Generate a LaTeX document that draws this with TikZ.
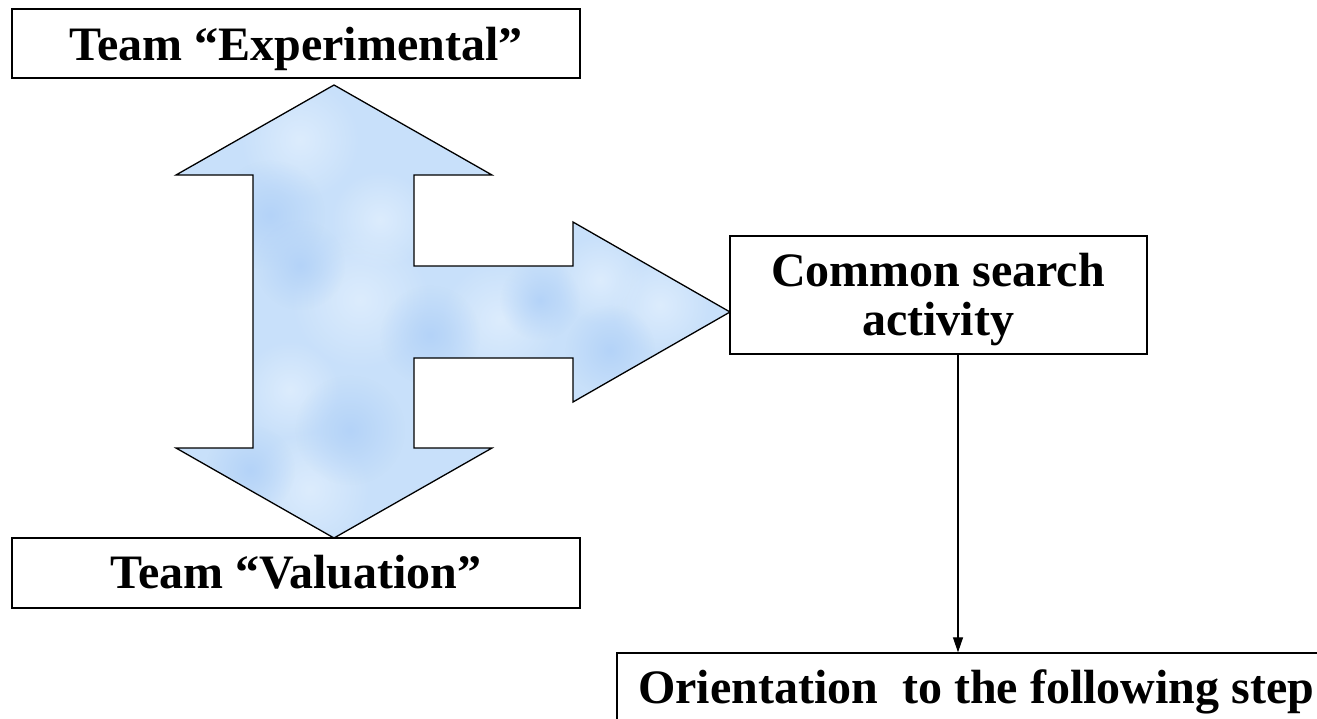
\documentclass[tikz,border=0pt]{standalone}
\usepackage{fontspec}
\setmainfont{Liberation Serif}
\usetikzlibrary{arrows.meta,fadings}
\definecolor{sky}{RGB}{200,224,250}
\definecolor{skylight}{RGB}{220,236,253}
\definecolor{skydeep}{RGB}{180,211,248}
\tikzfading[name=softdisc, inner color=transparent!0, outer color=transparent!100]
\begin{document}
\begin{tikzpicture}[x=1pt,y=-1pt,
  box/.style={draw=black, line width=1.3pt, fill=white, inner sep=0pt},
  lbl/.style={font=\bfseries\fontsize{48}{53}\selectfont, inner sep=0pt, anchor=base},
  link/.style={draw=black, line width=1.1pt, -{Triangle[length=15pt,width=10pt]}},
  outline/.style={draw=black, line width=1.3pt, line join=miter},
  cloud/.style={path fading=softdisc}]
\useasboundingbox (0,0) rectangle (1317,718);

% corners of the three-way block arrow
\coordinate (a1)  at (334,85);
\coordinate (a2)  at (492,175);
\coordinate (a3)  at (414,175);
\coordinate (a4)  at (414,266);
\coordinate (a5)  at (573,266);
\coordinate (a6)  at (573,222);
\coordinate (a7)  at (730,312);
\coordinate (a8)  at (573,402);
\coordinate (a9)  at (573,358);
\coordinate (a10) at (414,358);
\coordinate (a11) at (414,448);
\coordinate (a12) at (492,448);
\coordinate (a13) at (334,538);
\coordinate (a14) at (176,448);
\coordinate (a15) at (253,448);
\coordinate (a16) at (253,175);
\coordinate (a17) at (176,175);

% cloudy blue fill of the block arrow
\begin{scope}
  \clip (a1) -- (a2) -- (a3) -- (a4) -- (a5) -- (a6) -- (a7) -- (a8) -- (a9)
        -- (a10) -- (a11) -- (a12) -- (a13) -- (a14) -- (a15) -- (a16) -- (a17) -- cycle;
  \fill[sky] (160,80) rectangle (740,545);
  \foreach \cx/\cy/\r in {300/140/60, 360/300/70, 500/320/60, 660/305/50,
                          310/490/60, 290/390/50, 380/220/50, 600/280/45}
    \fill[skylight, cloud] (\cx,\cy) circle (\r pt);
  \foreach \cx/\cy/\r in {270/215/55, 430/335/50, 610/350/45, 350/430/55,
                          300/265/45, 540/300/40, 250/470/45}
    \fill[skydeep, cloud] (\cx,\cy) circle (\r pt);
\end{scope}
\draw[outline] (a1) -- (a2) -- (a3) -- (a4) -- (a5) -- (a6) -- (a7) -- (a8) -- (a9)
        -- (a10) -- (a11) -- (a12) -- (a13) -- (a14) -- (a15) -- (a16) -- (a17) -- cycle;

% boxes
\node[box, minimum width=568pt, minimum height=69pt] (exp) at (296,43.5) {};
\node[lbl] (expt) at (296,60) {Team “Experimental”};

\node[box, minimum width=568pt, minimum height=70pt] (val) at (296,573) {};
\node[lbl] (valt) at (296,588) {Team “Valuation”};

\node[box, minimum width=417pt, minimum height=118pt] (common) at (938.5,295) {};
\node[lbl] (commont1) at (938,286) {Common search};
\node[lbl] (commont2) at (938,335) {activity};

\node[box, minimum width=723pt, minimum height=107pt] (orient) at (978.5,706.5) {};
\node[lbl, anchor=base west] (orientt) at (638,703) {Orientation~ to the following step};

% connector
\coordinate (drop) at (958,0);
\draw[link] (drop |- common.south) -- (drop |- orient.north);
\end{tikzpicture}
\end{document}
